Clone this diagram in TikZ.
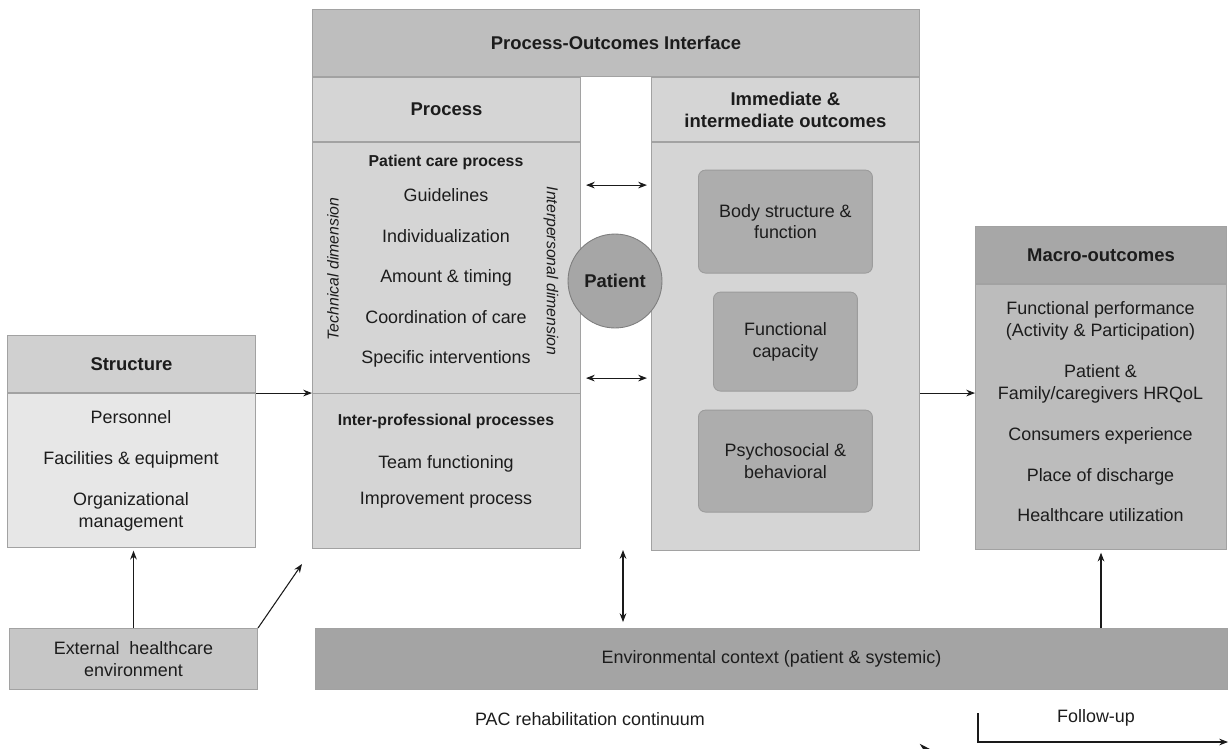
\documentclass[tikz,border=0pt]{standalone}
\usepackage{fontspec}
\setmainfont{Liberation Sans}
\setsansfont{Liberation Sans}
\usepackage{tikz}
\usetikzlibrary{arrows.meta, positioning, calc}
\definecolor{TextInk}{HTML}{1C1C1C}
\definecolor{ArrowInk}{HTML}{1A1A1A}
\definecolor{PanelLine}{HTML}{A2A2A2}
\definecolor{PoiHead}{HTML}{BEBEBE}
\definecolor{ColFill}{HTML}{D5D5D5}
\definecolor{StrHead}{HTML}{D0D0D0}
\definecolor{StrBody}{HTML}{E7E7E7}
\definecolor{ExtFill}{HTML}{C6C6C6}
\definecolor{TileFill}{HTML}{ADADAD}
\definecolor{TileLine}{HTML}{9C9C9C}
\definecolor{PatFill}{HTML}{A6A6A6}
\definecolor{PatLine}{HTML}{7E7E7E}
\definecolor{EnvFill}{HTML}{A4A4A4}
\definecolor{MacroHead}{HTML}{A7A7A7}
\definecolor{MacroBody}{HTML}{BCBCBC}

\begin{document}
\begin{tikzpicture}[
  x=0.02cm,
  y=-0.02cm,
  font=\fontsize{10.2}{12.5}\selectfont,
  text=TextInk,
  panel/.style={
    draw=PanelLine,
    line width=0.6pt,
    inner sep=0pt,
    anchor=north west,
    align=center,
  },
  head/.style={
    panel,
    font=\fontsize{10.5}{12.5}\selectfont\bfseries,
  },
  tile/.style={
    draw=TileLine,
    fill=TileFill,
    rounded corners=4pt,
    line width=0.5pt,
    align=center,
    minimum width=3.48cm,
    minimum height=2.06cm,
  },
  arrow/.style={
    -{Stealth[length=5pt, width=3.8pt]},
    line width=0.6pt,
    draw=ArrowInk,
  },
  both/.style={
    {Stealth[length=5pt, width=3.8pt]}-{Stealth[length=5pt, width=3.8pt]},
    line width=0.6pt,
    draw=ArrowInk,
  },
]
  \useasboundingbox (0,0) rectangle (1229,748);

  \node[head, fill=StrHead, minimum width=4.96cm, minimum height=1.14cm]
    (strHead) at (7,335) {Structure};
  \node[
    panel,
    fill=StrBody,
    minimum width=4.96cm,
    minimum height=3.08cm,
    below=0pt of strHead.south west,
    anchor=north west,
  ] (strBody) {};
  \node[align=center] (strItems) at (131,471) {%
    Personnel\\[10.7pt]
    Facilities \& equipment\\[10.7pt]
    Organizational\\management%
  };
  \node[panel, fill=ExtFill, minimum width=4.96cm, minimum height=1.22cm]
    (ext) at (9,628) {External\ \ healthcare\\environment};

  \node[head, fill=PoiHead, minimum width=12.14cm, minimum height=1.34cm]
    (poi) at (312,9) {Process-Outcomes Interface};
  \node[
    head,
    fill=ColFill,
    minimum width=5.36cm,
    minimum height=1.28cm,
    below=0pt of poi.south west,
    anchor=north west,
  ] (procHead) {Process};
  \node[
    panel,
    fill=ColFill,
    minimum width=5.36cm,
    minimum height=8.12cm,
    below=0pt of procHead.south west,
    anchor=north west,
  ] (procBody) {};
  \node[
    head,
    fill=ColFill,
    minimum width=5.36cm,
    minimum height=1.28cm,
    below=0pt of poi.south east,
    anchor=north east,
  ] (outHead) {Immediate \&\\intermediate outcomes};
  \node[
    panel,
    fill=ColFill,
    minimum width=5.36cm,
    minimum height=8.16cm,
    below=0pt of outHead.south west,
    anchor=north west,
  ] (outBody) {};
  \draw[PanelLine, line width=0.6pt]
    (procBody.west |- strBody.north) -- (procBody.east |- strBody.north);

  \node[font=\fontsize{9}{11}\selectfont\bfseries] (careTitle) at (446,162)
    {Patient care process};
  \node[font=\fontsize{10.2}{23}\selectfont, align=center] (careItems) at (446,278) {%
    Guidelines\\Individualization\\Amount \& timing\\
    Coordination of care\\Specific interventions%
  };
  \node[rotate=90, font=\fontsize{9}{11}\selectfont\itshape] (tech) at (333,269)
    {Technical dimension};
  \node[rotate=-90, font=\fontsize{9}{11}\selectfont\itshape] (inter) at (551,271)
    {Interpersonal dimension};
  \node[font=\fontsize{9}{11}\selectfont\bfseries] (ipTitle) at (446,421)
    {Inter-professional processes};
  \node[font=\fontsize{10.2}{20.5}\selectfont, align=center] (ipItems) at (446,482)
    {Team functioning\\Improvement process};

  \node[tile] (bodyFn) at ($(outBody.north)+(0,79.5)$) {Body structure \&\\function};
  \node[tile, minimum width=2.88cm, minimum height=1.98cm] (funcCap)
    at ($(outBody.north)+(0,199.5)$) {Functional\\capacity};
  \node[tile, minimum height=2.04cm] (psycho)
    at ($(outBody.north)+(0,319)$) {Psychosocial \&\\behavioral};

  \node[
    circle,
    draw=PatLine,
    fill=PatFill,
    line width=0.5pt,
    minimum size=1.88cm,
    inner sep=0pt,
    font=\fontsize{10.5}{12.5}\selectfont\bfseries,
  ] (patient) at (615,281) {Patient};
  \draw[both] ($(procBody.north east)+(5,43)$) -- ($(outBody.north west)+(-4,43)$);
  \draw[both] ($(procBody.north east)+(5,236)$) -- ($(outBody.north west)+(-4,236)$);

  \node[head, fill=MacroHead, minimum width=5.02cm, minimum height=1.14cm]
    (macroHead) at (975,226) {Macro-outcomes};
  \node[
    panel,
    fill=MacroBody,
    minimum width=5.02cm,
    minimum height=5.3cm,
    below=0pt of macroHead.south west,
    anchor=north west,
  ] (macroBody) {};
  \node[align=center] (macroItems) at (1100.5,412) {%
    Functional performance\\(Activity \& Participation)\\[10.7pt]
    Patient \&\\Family/caregivers HRQoL\\[10.7pt]
    Consumers experience\\[10.7pt]
    Place of discharge\\[10.7pt]
    Healthcare utilization%
  };

  \node[panel, fill=EnvFill, minimum width=18.24cm, minimum height=1.22cm]
    (env) at (315,628) {Environmental context (patient \& systemic)};

  \draw[arrow] (strHead.south east) -- (strHead.south east -| procBody.west);
  \draw[arrow, shorten >=1.5pt] (ext.north) -- (ext.north |- strBody.south);
  \coordinate (extTip) at (302,564);
  \draw[arrow] (ext.north east) -- (extTip);
  \draw[arrow] (outBody.east |- strBody.north) -- (macroBody.west |- strBody.north);
  \coordinate (gapLow) at (623,550);
  \draw[both, shorten >=3.4pt] (gapLow) -- (gapLow |- env.north);
  \draw[arrow, shorten >=1.5pt] (env.north -| macroBody.south) -- (macroBody.south);

  \node (pac) at (590,719) {PAC rehabilitation continuum};
  \node (follow) at (1096,718) {Follow-up};
  \coordinate (fuTop) at (978,713);
  \coordinate (fuEnd) at (1228,742);
  \draw[arrow] (fuTop) |- (fuEnd);
  \begin{scope}
    \clip (0,0) rectangle (1229,748);
    \coordinate (pacTail) at (640,750);
    \coordinate (pacTip) at (932,750);
    \draw[-{Stealth[length=7pt, width=7pt]}, line width=0.6pt, ArrowInk]
      (pacTail) -- (pacTip);
  \end{scope}
\end{tikzpicture}
\end{document}
